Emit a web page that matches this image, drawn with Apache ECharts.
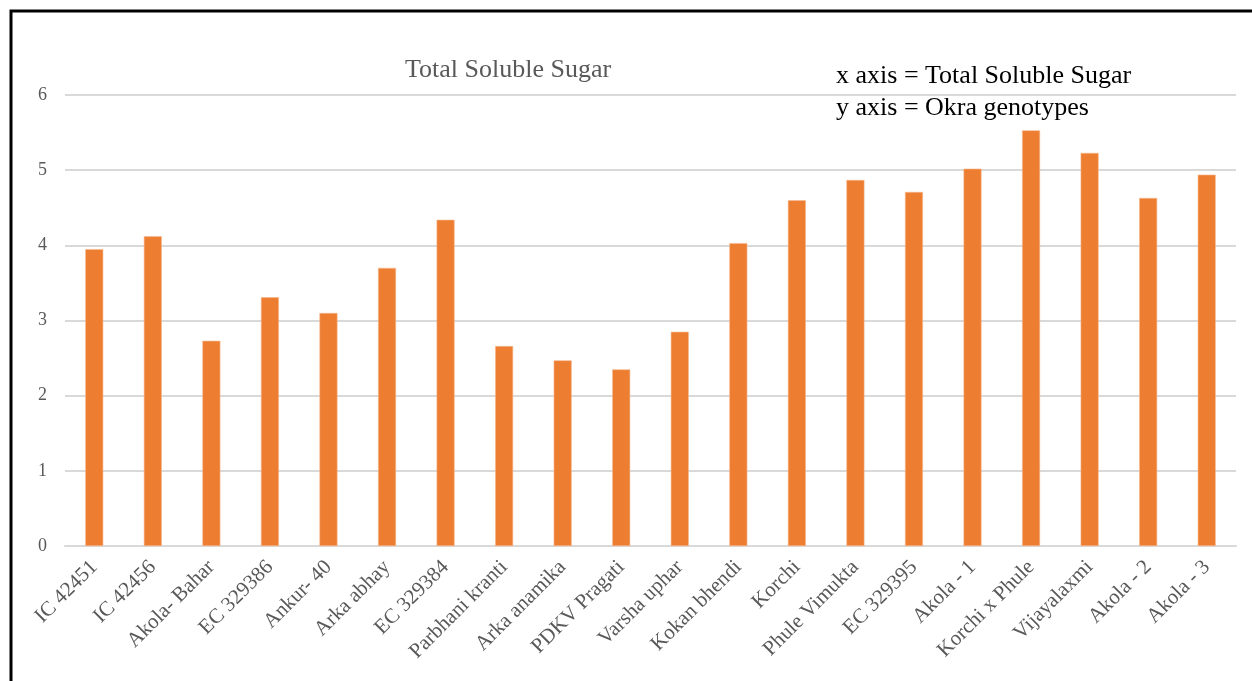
<!DOCTYPE html>
<html lang="en">
<head>
    <meta charset="UTF-8">
    <title>Total Soluble Sugar</title>
    <style>
        html, body { margin: 0; padding: 0; background: #fff; }
        #chart { width: 1252px; height: 681px; }
    </style>
    <script src="https://cdn.jsdelivr.net/npm/echarts@6/dist/echarts.min.js"></script>
</head>
<body>
<div id="chart"></div>
<script>
    // genotypes and values
    var genotypes = ["IC 42451", "IC 42456", "Akola- Bahar", "EC 329386", "Ankur- 40", "Arka abhay",
        "EC 329384", "Parbhani kranti", "Arka anamika", "PDKV Pragati", "Varsha uphar", "Kokan bhendi",
        "Korchi", "Phule Vimukta", "EC 329395", "Akola - 1", "Korchi x Phule", "Vijayalaxmi",
        "Akola - 2", "Akola - 3"];
    var sugar = [3.95, 4.12, 2.73, 3.31, 3.10, 3.70, 4.34, 2.66, 2.47, 2.35, 2.85, 4.03,
        4.60, 4.87, 4.71, 5.02, 5.53, 5.23, 4.63, 4.94];
    var yTicks = [0, 1, 2, 3, 4, 5, 6];

    var serif = "'Liberation Serif', 'DejaVu Serif', serif";
    var chart = echarts.init(document.getElementById("chart"));
    var option = {
        animation: false,
        title: {
            text: "Total Soluble Sugar",
            left: 503,
            top: 52,
            textAlign: "center",
            textStyle: { fontFamily: serif, fontSize: 26, fontWeight: "normal", color: "#595959" }
        },
        grid: { left: 65, right: 16, top: 95, bottom: 135, containLabel: false },
        xAxis: {
            type: "category",
            data: genotypes,
            axisTick: { show: false },
            axisLine: { lineStyle: { color: "#d9d9d9", width: 2 } },
            axisLabel: {
                rotate: 45, interval: 0, margin: 18,
                fontFamily: serif, fontSize: 21, color: "#595959"
            }
        },
        yAxis: {
            type: "value",
            min: yTicks[0],
            max: yTicks[yTicks.length - 1],
            interval: 1,
            axisLine: { show: false },
            axisTick: { show: false },
            splitLine: { lineStyle: { color: "#d9d9d9", width: 2 } },
            axisLabel: { margin: 18, fontFamily: serif, fontSize: 18, color: "#595959" }
        },
        series: [{
            type: "bar",
            data: sugar,
            barWidth: 18,
            itemStyle: { color: "#ED7D31", borderColor: "#f6b88f", borderWidth: 0.6 }
        }],
        graphic: [
            {
                type: "rect",
                shape: { x: 11, y: 11, width: 1300, height: 720 },
                style: { fill: null, stroke: "#000", lineWidth: 3 },
                silent: true
            },
            {
                type: "text", left: 836, top: 63,
                style: { text: "x axis = Total Soluble Sugar", font: "26px " + serif, fill: "#000" }
            },
            {
                type: "text", left: 836, top: 95,
                style: { text: "y axis = Okra genotypes", font: "26px " + serif, fill: "#000" }
            }
        ]
    };
    chart.setOption(option);
</script>
</body>
</html>
